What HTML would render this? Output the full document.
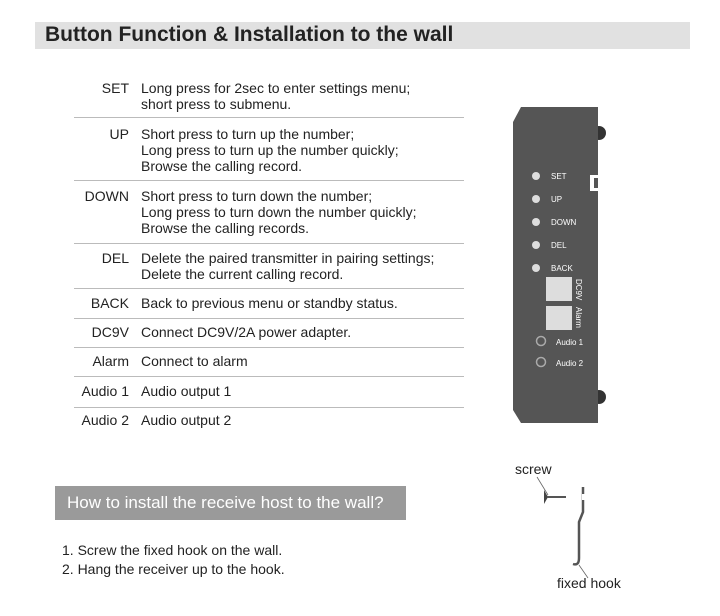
<!DOCTYPE html>
<html><head><style>
body{margin:0;width:720px;height:616px;background:#fff;font-family:"Liberation Sans",sans-serif;position:relative;overflow:hidden;color:#222}
.a{position:absolute}
.hdr{left:35px;top:22px;width:655px;height:27px;background:#e1e1e1}
.hdr span{position:absolute;left:10px;top:1px;font-size:21px;font-weight:bold;color:#222}
.k{position:absolute;width:60px;text-align:right;left:69px;font-size:14px}
.v{position:absolute;left:141px;font-size:14px;line-height:16px}
.ln{position:absolute;left:74px;width:390px;height:1px;background:#bbb}
</style></head><body>
<div class="a hdr"><span>Button Function &amp; Installation to the wall</span></div>

<div class="k" style="top:80px">SET</div><div class="v" style="top:80px">Long press for 2sec to enter settings menu;<br>short press to submenu.</div>
<div class="ln" style="top:117px"></div>
<div class="k" style="top:126px">UP</div><div class="v" style="top:126px">Short press to turn up the number;<br>Long press to turn up the number quickly;<br>Browse the calling record.</div>
<div class="ln" style="top:180px"></div>
<div class="k" style="top:188px">DOWN</div><div class="v" style="top:188px">Short press to turn down the number;<br>Long press to turn down the number quickly;<br>Browse the calling records.</div>
<div class="ln" style="top:243px"></div>
<div class="k" style="top:250px">DEL</div><div class="v" style="top:250px">Delete the paired transmitter in pairing settings;<br>Delete the current calling record.</div>
<div class="ln" style="top:288px"></div>
<div class="k" style="top:295px">BACK</div><div class="v" style="top:295px">Back to previous menu or standby status.</div>
<div class="ln" style="top:318px"></div>
<div class="k" style="top:324px">DC9V</div><div class="v" style="top:324px">Connect DC9V/2A power adapter.</div>
<div class="ln" style="top:347px"></div>
<div class="k" style="top:353px">Alarm</div><div class="v" style="top:353px">Connect to alarm</div>
<div class="ln" style="top:376px"></div>
<div class="k" style="top:383px">Audio 1</div><div class="v" style="top:383px">Audio output 1</div>
<div class="ln" style="top:407px"></div>
<div class="k" style="top:412px">Audio 2</div><div class="v" style="top:412px">Audio output 2</div>

<div class="a" style="left:55px;top:486px;width:351px;height:34px;background:#9a9a9a;color:#fff;font-size:17px;line-height:34px;text-indent:12px">How to install the receive host to the wall?</div>
<div class="a" style="left:62px;top:541px;font-size:14px;line-height:19px">1. Screw the fixed hook on the wall.<br>2. Hang the receiver up to the hook.</div>

<svg class="a" style="left:0;top:0" width="720" height="616">
<circle cx="599" cy="133" r="7" fill="#333"/><circle cx="599" cy="397" r="7" fill="#333"/>
<polygon points="521,107 598,107 598,423 521,423 513,410 513,122" fill="#555"/>
<rect x="590" y="175" width="8" height="16" fill="#fff"/><rect x="594" y="178" width="4" height="10" fill="#555"/>
<g fill="#ddd"><circle cx="536" cy="176" r="4"/><circle cx="536" cy="199" r="4"/><circle cx="536" cy="222" r="4"/><circle cx="536" cy="245" r="4"/><circle cx="536" cy="268" r="4"/></g>
<g fill="#fff" font-size="8" font-family="Liberation Sans"><text x="551" y="179">SET</text><text x="551" y="202">UP</text><text x="551" y="225">DOWN</text><text x="551" y="248">DEL</text><text x="551" y="271">BACK</text>
<text x="556" y="345">Audio 1</text><text x="556" y="366">Audio 2</text>
<text transform="translate(576,279) rotate(90)">DC9V</text><text transform="translate(576,307) rotate(90)">Alarm</text></g>
<rect x="546" y="277" width="26" height="24" fill="#ddd"/><rect x="546" y="306" width="26" height="24" fill="#ddd"/>
<circle cx="541" cy="341" r="4.5" fill="none" stroke="#aaa" stroke-width="1.5"/><circle cx="541" cy="362" r="4.5" fill="none" stroke="#aaa" stroke-width="1.5"/>
<text x="515" y="474" font-size="14" font-family="Liberation Sans" fill="#222">screw</text>
<line x1="537" y1="477" x2="548" y2="495" stroke="#666" stroke-width="0.8"/>
<polygon points="544,490 548,497 544,504" fill="#444"/><line x1="547" y1="497" x2="566" y2="497" stroke="#555" stroke-width="2"/>
<path d="M583,487 L583,512 L579,522 L579,558 Q579,566 573,564" fill="none" stroke="#555" stroke-width="2.5"/>
<rect x="582" y="494" width="3" height="6" fill="#fff"/>
<line x1="579" y1="565" x2="588" y2="578" stroke="#666" stroke-width="0.8"/>
<text x="557" y="588" font-size="14" font-family="Liberation Sans" fill="#222">fixed hook</text>
</svg>
</body></html>
